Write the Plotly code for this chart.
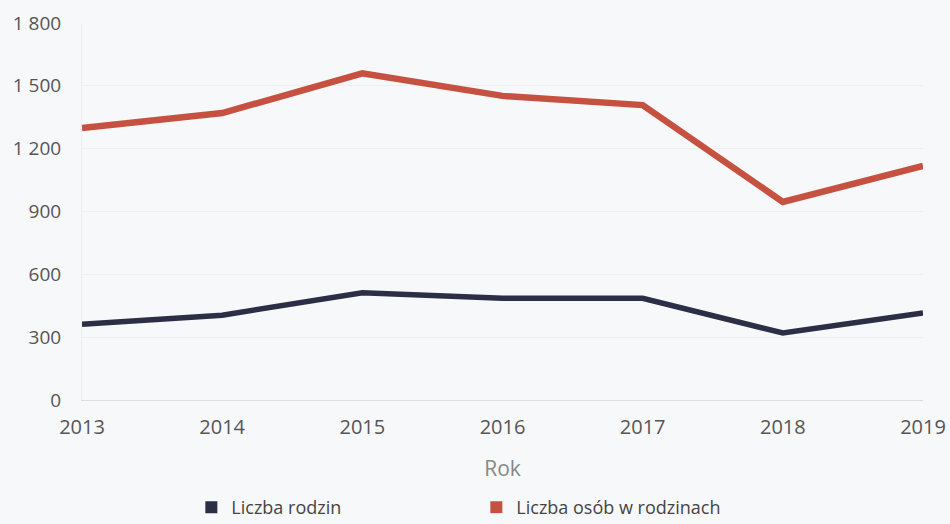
import plotly.graph_objects as go

years = [2013, 2014, 2015, 2016, 2017, 2018, 2019]
liczba_rodzin = [362, 405, 512, 486, 486, 320, 415]
liczba_osob = [1298, 1370, 1560, 1452, 1408, 946, 1118]
y_ticks = [0, 300, 600, 900, 1200, 1500, 1800]

navy = "#2c2e46"
red = "#c65140"
bg = "#f7f8fa"

fig = go.Figure()
fig.add_trace(go.Scatter(x=years, y=liczba_rodzin, mode="lines",
                         line=dict(color=navy, width=5.5), showlegend=False))
fig.add_trace(go.Scatter(x=years, y=liczba_osob, mode="lines",
                         line=dict(color=red, width=6.5), showlegend=False))
fig.add_trace(go.Scatter(x=[None], y=[None], mode="markers", name="Liczba rodzin",
                         marker=dict(symbol="square", size=12, color=navy)))
fig.add_trace(go.Scatter(x=[None], y=[None], mode="markers", name="Liczba osób w rodzinach",
                         marker=dict(symbol="square", size=12, color=red)))

fig.update_layout(
    width=950, height=524,
    margin=dict(l=82, r=27, t=23, b=124, autoexpand=False),
    paper_bgcolor=bg, plot_bgcolor=bg,
    font=dict(family="Open Sans", size=18, color="#555"),
    separators=". ",
    legend=dict(orientation="h", x=0.13, xanchor="left", y=-0.285, yanchor="middle",
                entrywidth=240, entrywidthmode="pixels", itemwidth=30,
                font=dict(size=18, color="#444"), bgcolor="rgba(0,0,0,0)"),
    xaxis=dict(range=[2013, 2019], tickvals=years, showgrid=False, automargin=False,
               showline=True, linecolor="#dcdde2", linewidth=1, zeroline=False,
               tickfont=dict(size=20, color="#555"), ticklabelstandoff=9,
               title=dict(text="Rok", standoff=22, font=dict(size=21, color="#888"))),
    yaxis=dict(range=[0, 1800], tickvals=y_ticks, tickformat=",d", automargin=False,
               showgrid=True, gridcolor="#eeeff2", gridwidth=1, zeroline=False,
               showline=True, linecolor="#eeeff2",
               tickfont=dict(size=19, color="#555"), ticklabelstandoff=16),
)

fig.write_html("out.html", config={"displayModeBar": False},
               post_script="document.body.style.margin='0';document.body.style.background='%s';" % bg)
